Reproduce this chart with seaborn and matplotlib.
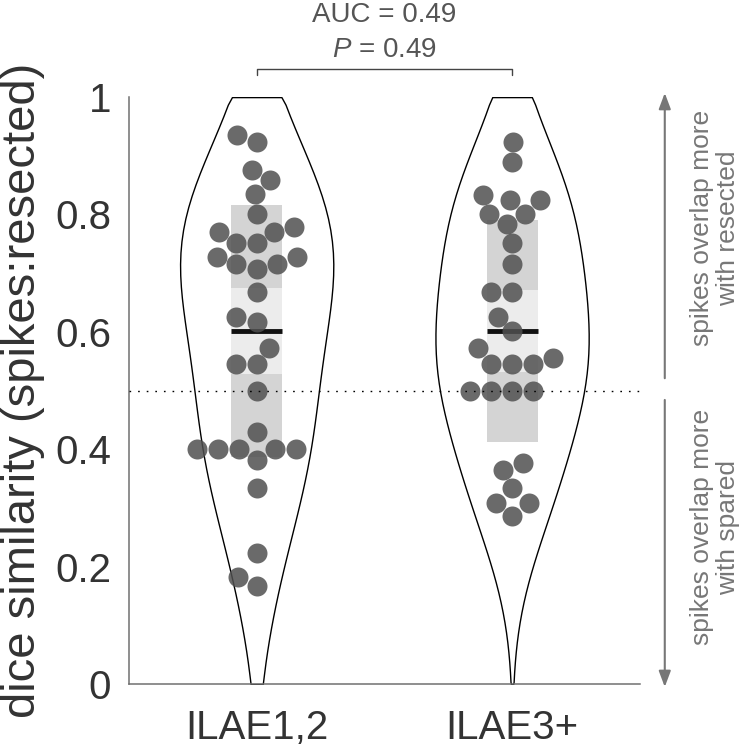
import numpy as np
import pandas as pd
import matplotlib
matplotlib.use("Agg")
import matplotlib.pyplot as plt
import seaborn as sns

groups = ["ILAE1,2", "ILAE3+"]

ilae12 = [0.935, 0.924, 0.876, 0.859, 0.835, 0.801, 0.779, 0.771, 0.771, 0.751,
          0.751, 0.728, 0.728, 0.716, 0.707, 0.716, 0.668, 0.626, 0.617, 0.573,
          0.546, 0.546, 0.50, 0.430, 0.40, 0.40, 0.40, 0.40, 0.40, 0.382,
          0.334, 0.224, 0.183, 0.167]
ilae3 = [0.924, 0.890, 0.834, 0.825, 0.825, 0.801, 0.801, 0.784, 0.751, 0.716,
         0.668, 0.668, 0.626, 0.601, 0.573, 0.556, 0.546, 0.546, 0.546, 0.50,
         0.50, 0.50, 0.50, 0.376, 0.365, 0.334, 0.308, 0.308, 0.287]

# summary shown as boxes: mean line, 95% CI (light), SD (dark)
means = [0.601, 0.602]
ci_lo = [0.528, 0.532]
ci_hi = [0.674, 0.671]
sd_lo = [0.386, 0.413]
sd_hi = [0.816, 0.790]

ytick_vals = [0, 0.2, 0.4, 0.6, 0.8, 1]
ytick_labels = ["0", "0.2", "0.4", "0.6", "0.8", "1"]
auc_text = "AUC = 0.49"
p_text = r"$P$ = 0.49"
up_text = "spikes overlap more\nwith resected"
down_text = "spikes overlap more\nwith spared"

df = pd.DataFrame({
    "group": [groups[0]] * len(ilae12) + [groups[1]] * len(ilae3),
    "dice": ilae12 + ilae3,
})

sns.set_theme(style="white")
plt.rcParams["font.family"] = ["Liberation Sans", "DejaVu Sans"]
plt.rcParams["mathtext.fontset"] = "custom"
plt.rcParams["mathtext.it"] = "Liberation Sans:italic"
plt.rcParams["mathtext.rm"] = "Liberation Sans"

fig = plt.figure(figsize=(7.5, 7.47), dpi=100)
ax = fig.add_axes([0.172, 0.0843, 0.681, 0.7857])

sns.violinplot(
    data=df, x="group", y="dice", order=groups, ax=ax,
    inner=None, cut=4, width=0.6, density_norm="width", bw_adjust=1.35,
    color="white", linecolor="black", linewidth=1.0, saturation=1,
)
# clip violins to the [0, 1] range of the score (flat top / bottom)
for coll in ax.collections:
    verts = [p.vertices.copy() for p in coll.get_paths()]
    for v in verts:
        v[:, 1] = np.clip(v[:, 1], 0, 1)
    coll.set_verts(verts)
    coll.set_zorder(1)

pos = np.arange(len(groups))
ax.bar(pos, np.subtract(sd_hi, sd_lo), bottom=sd_lo, width=0.2,
       color="#d4d4d4", linewidth=0, zorder=2)
ax.bar(pos, np.subtract(ci_hi, ci_lo), bottom=ci_lo, width=0.2,
       color="#ececec", linewidth=0, zorder=2.1)
ax.hlines(means, pos - 0.1, pos + 0.1, color="#111111", linewidth=3.5, zorder=3)

sns.swarmplot(
    data=df, x="group", y="dice", order=groups, ax=ax,
    color="#505050", alpha=0.85, size=14.4, linewidth=0, zorder=4,
)

ax.axhline(0.5, color="black", linewidth=1.0, linestyle=(0, (1.2, 5)), zorder=5)

ax.set_xlim(-0.5, 1.5)
ax.set_ylim(0, 1)
ax.set_yticks(ytick_vals)
ax.set_yticklabels(ytick_labels)
ax.set_xlabel("")
ax.set_ylabel("dice similarity (spikes:resected)", fontsize=34, color="#333333")
ax.yaxis.set_label_coords(-0.165, 0.5)
ax.tick_params(axis="both", length=0, labelsize=29, colors="#333333")
ax.tick_params(axis="y", pad=13)
ax.tick_params(axis="x", pad=18)
for side in ["top", "right"]:
    ax.spines[side].set_visible(False)
for side in ["left", "bottom"]:
    ax.spines[side].set_color("#707070")
    ax.spines[side].set_linewidth(1.1)

# comparison bracket and stats
ax.plot([0, 0, 1, 1], [1.038, 1.048, 1.048, 1.038], color="#444444",
        linewidth=1.0, clip_on=False)
ax.text(0.5, 1.128, auc_text, ha="center", va="baseline", fontsize=20,
        color="#555555", clip_on=False)
ax.text(0.5, 1.068, p_text, ha="center", va="baseline", fontsize=20,
        color="#555555", clip_on=False)

# direction arrows at the right
tr = ax.get_yaxis_transform()
arrow_kw = dict(arrowstyle="-|>,head_length=0.8,head_width=0.3", color="#777777",
                linewidth=1.5, shrinkA=0, shrinkB=0)
ax.annotate("", xy=(1.049, 1.007), xytext=(1.049, 0.521),
            xycoords=("axes fraction", "data"), arrowprops=arrow_kw,
            annotation_clip=False)
ax.annotate("", xy=(1.049, -0.005), xytext=(1.049, 0.484),
            xycoords=("axes fraction", "data"), arrowprops=arrow_kw,
            annotation_clip=False)
ax.text(1.148, 0.777, up_text, transform=tr, rotation=90, ha="center",
        va="center", fontsize=19, color="#777777", linespacing=1.1,
        multialignment="center", clip_on=False)
ax.text(1.148, 0.267, down_text, transform=tr, rotation=90, ha="center",
        va="center", fontsize=19, color="#777777", linespacing=1.1,
        multialignment="center", clip_on=False)

fig.savefig("out.png", dpi=100)
